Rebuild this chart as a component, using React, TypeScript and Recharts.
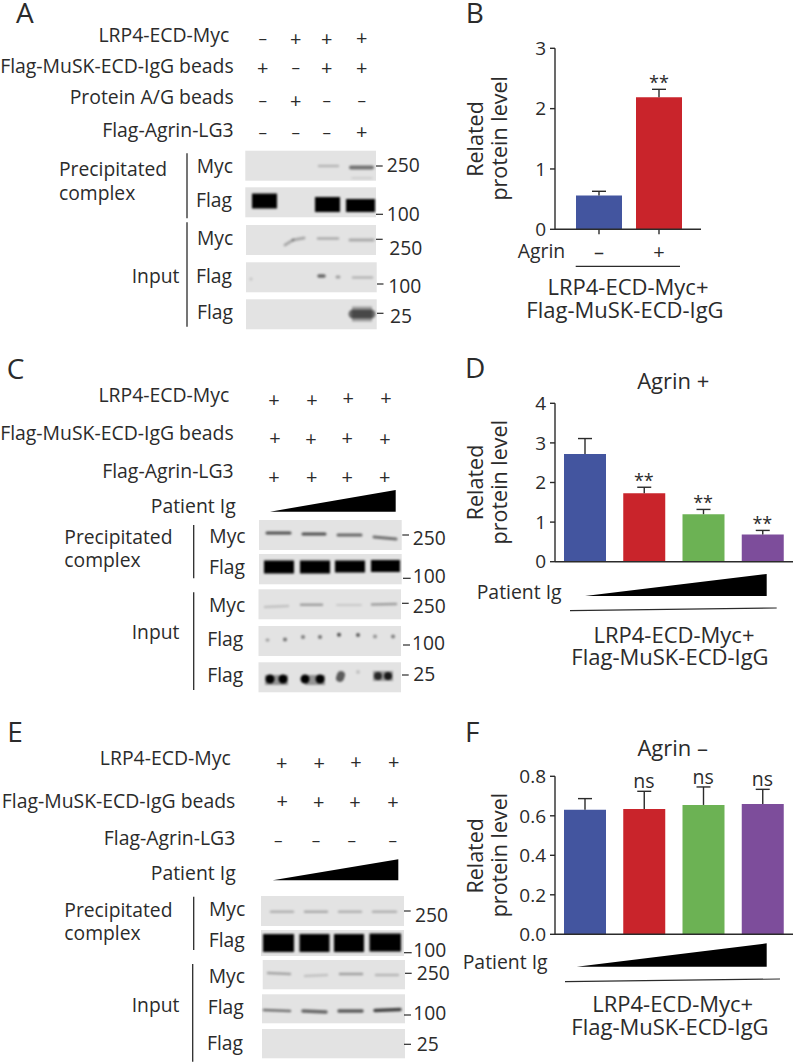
import { ComposedChart, Bar, Line, Cell, XAxis, YAxis, ErrorBar, LabelList } from "recharts";

const FONT = "'Open Sans', sans-serif";
const INK = "#2b2b2b";

// chart values
const barColors = ["#43559f", "#c9242b", "#6cb254", "#7d4d9b"];

const bCategories = ["–", "+"];
const bValues = [0.56, 2.19];
const bErrors = [0.07, 0.13];
const bMarks = ["", "**"];
const bTicks = [0, 1, 2, 3];

const doseCategories = ["1", "2", "3", "4"];

const dValues = [2.72, 1.73, 1.2, 0.69];
const dErrors = [0.39, 0.15, 0.12, 0.1];
const dMarks = ["", "**", "**", "**"];
const dTicks = [0, 1, 2, 3, 4];

const fValues = [0.631, 0.635, 0.655, 0.66];
const fErrors = [0.056, 0.089, 0.091, 0.074];
const fMarks = ["", "ns", "ns", "ns"];
const fTicks = [0, 0.2, 0.4, 0.6, 0.8];

function makeRows(categories: string[], values: number[], errors: number[], marks: string[]) {
  return categories.map((name, i) => ({
    name,
    value: values[i],
    error: [0, errors[i]],
    top: values[i] + errors[i],
    mark: marks[i],
  }));
}

function RelatedChart({ rows, ticks, top, height, plotHeight, right, barSize, padding, showSigns, markOffset, markSize, tickFormat }: any) {
  return (
    <div style={{ position: "absolute", left: 450, top }}>
      <ComposedChart
        width={344}
        height={height}
        data={rows}
        margin={{ top: 18.3, right, bottom: height - 18.3 - plotHeight - 24, left: 0 }}
      >
        <XAxis
          dataKey="name"
          height={24}
          padding={padding}
          stroke={INK}
          strokeWidth={1.4}
          tickSize={5}
          tickMargin={10}
          tick={showSigns ? { fill: INK, fontSize: 20, fontFamily: FONT } : false}
          interval={0}
        />
        <YAxis
          width={105}
          domain={[ticks[0], ticks[ticks.length - 1]]}
          ticks={ticks}
          interval={0}
          stroke={INK}
          strokeWidth={1.4}
          tickSize={5}
          tickMargin={4}
          tick={{ fill: INK, fontSize: 19, fontFamily: FONT }}
          tickFormatter={tickFormat}
        />
        <Bar dataKey="value" barSize={barSize} isAnimationActive={false}>
          {rows.map((_: any, i: number) => (
            <Cell key={i} fill={barColors[i]} />
          ))}
          <ErrorBar dataKey="error" direction="y" width={7} stroke={INK} strokeWidth={1.4} isAnimationActive={false} />
        </Bar>
        <Line dataKey="top" stroke="none" dot={false} activeDot={false} isAnimationActive={false}>
          <LabelList dataKey="mark" position="top" offset={markOffset} fill={INK} fontSize={markSize} fontFamily={FONT} />
        </Line>
      </ComposedChart>
    </div>
  );
}

// overlay text
type Txt = [string, number, number, number?, string?];

const labelText: Txt[] = [
  ["LRP4-ECD-Myc", 229.3, 41.7, 19.4, "end"],
  ["Flag-MuSK-ECD-IgG beads", 233.7, 72.7, 19.4, "end"],
  ["Protein A/G beads", 233.7, 104, 19.4, "end"],
  ["Flag-Agrin-LG3", 233.7, 137.3, 19.4, "end"],
  ["Precipitated", 59, 176, 19.3],
  ["complex", 59, 200, 19.3],
  ["Myc", 196.7, 173.3, 19.3],
  ["Flag", 196, 207.3, 19.3],
  ["Myc", 197, 245, 19.3],
  ["Flag", 196, 282.7, 19.3],
  ["Flag", 197, 319.3, 19.3],
  ["Input", 131.7, 283.3, 19.3],
  ["250", 386.7, 172.3, 19.3],
  ["100", 386.7, 220.7, 19.3],
  ["250", 389.3, 255, 19.3],
  ["100", 388.3, 293.3, 19.3],
  ["25", 390, 323.3, 19.3],

  ["LRP4-ECD-Myc", 229.3, 401.7, 19.4, "end"],
  ["Flag-MuSK-ECD-IgG beads", 233.7, 440, 19.4, "end"],
  ["Flag-Agrin-LG3", 233.7, 478.3, 19.4, "end"],
  ["Patient Ig", 235.7, 513.3, 19.4, "end"],
  ["Precipitated", 64.3, 544.3, 19.3],
  ["complex", 64.3, 567.3, 19.3],
  ["Myc", 209.3, 542.7, 19.3],
  ["Flag", 209, 574, 19.3],
  ["Myc", 209, 611.7, 19.3],
  ["Flag", 207.3, 646, 19.3],
  ["Flag", 207.3, 681.7, 19.3],
  ["Input", 131.7, 639, 19.3],
  ["250", 412.7, 545, 19.3],
  ["100", 412.7, 583.3, 19.3],
  ["250", 412.7, 613.3, 19.3],
  ["100", 412, 650, 19.3],
  ["25", 413.3, 680.7, 19.3],

  ["LRP4-ECD-Myc", 230.7, 765, 19.4, "end"],
  ["Flag-MuSK-ECD-IgG beads", 235.3, 808.3, 19.4, "end"],
  ["Flag-Agrin-LG3", 235.3, 845, 19.4, "end"],
  ["Patient Ig", 235.7, 880, 19.4, "end"],
  ["Precipitated", 64.3, 916.7, 19.3],
  ["complex", 64.3, 940, 19.3],
  ["Myc", 209, 915.7, 19.3],
  ["Flag", 208.7, 946.7, 19.3],
  ["Myc", 208.7, 983.3, 19.3],
  ["Flag", 207.7, 1014.3, 19.3],
  ["Flag", 207, 1050, 19.3],
  ["Input", 131.7, 1011.7, 19.3],
  ["250", 415, 921.7, 19.3],
  ["100", 413.3, 957.3, 19.3],
  ["250", 416.7, 980, 19.3],
  ["100", 413.3, 1020, 19.3],
  ["25", 416.7, 1050.7, 19.3],

  ["Agrin", 517.7, 258.3, 19.4],
  ["LRP4-ECD-Myc+", 628, 295, 22, "middle"],
  ["Flag-MuSK-ECD-IgG", 625, 318.3, 22, "middle"],
  ["Agrin +", 673.3, 389.3, 22, "middle"],
  ["Patient Ig", 476.7, 599.3, 19.4],
  ["LRP4-ECD-Myc+", 674, 642.7, 22, "middle"],
  ["Flag-MuSK-ECD-IgG", 670, 665, 22, "middle"],
  ["Agrin –", 672.7, 756, 22, "middle"],
  ["Patient Ig", 462.7, 969.3, 19.4],
  ["LRP4-ECD-Myc+", 672.7, 1011.7, 22, "middle"],
  ["Flag-MuSK-ECD-IgG", 670, 1035, 22, "middle"],
];

const panelLetters: [string, number, number][] = [
  ["A", 16, 22.7],
  ["B", 465.7, 22.7],
  ["C", 6.7, 379.3],
  ["D", 465, 378],
  ["E", 7.3, 742.3],
  ["F", 465, 741.7],
];

const yTitles: [number, number][] = [
  [139, 138.3],
  [482.5, 482.2],
  [855.8, 855],
];

// + and – rows above each blot: [sign, x, y]
const signs: [string, number, number][] = [
  ["–", 262.7, 38], ["+", 295.7, 39], ["+", 326.7, 38.5], ["+", 361.7, 38.3],
  ["+", 262.7, 67.7], ["–", 295.7, 67], ["+", 326.7, 67.7], ["+", 361.7, 68],
  ["–", 262.7, 100], ["+", 295.7, 100.5], ["–", 326.7, 100], ["–", 361.7, 100],
  ["–", 262.7, 132], ["–", 295.7, 132], ["–", 326.7, 132.5], ["+", 361.7, 132.3],

  ["+", 274, 399.5], ["+", 312, 399.7], ["+", 348.3, 398], ["+", 386, 398],
  ["+", 275, 437.5], ["+", 311, 438.5], ["+", 347.3, 438], ["+", 385, 438.5],
  ["+", 274, 476.7], ["+", 311.7, 477], ["+", 347.3, 477], ["+", 384.7, 477],

  ["+", 281.7, 763], ["+", 319.3, 763.3], ["+", 356, 761.7], ["+", 393.7, 761.7],
  ["+", 282.3, 801], ["+", 318.7, 802], ["+", 355, 801.7], ["+", 393, 802],
  ["–", 278.3, 840], ["–", 316, 840], ["–", 351.7, 840.5], ["–", 392.7, 840],
];

// blot backgrounds: [x, y, w, h]
const blots = [
  [245.3, 150.7, 130.7, 30], [245.3, 187.3, 130.7, 30], [246, 225, 130, 30], [246, 262.3, 130.7, 30], [246, 299.3, 130.7, 30],
  [259, 520, 142.7, 30], [259, 554, 142.7, 30.3], [258.5, 589.3, 142.5, 30], [258.5, 626, 142.5, 30], [258.5, 662.3, 142.5, 30],
  [261, 896, 143, 30], [261, 930, 143, 26], [262.7, 960, 142.3, 29.3], [262, 994.3, 143, 29], [262, 1029, 143, 29.3],
];

// blot bands: [x1, y1, x2, y2, thickness, darkness]
const bands = [
  [319, 166, 338, 166, 2.5, 0.2], [351, 167.5, 372, 167.5, 4, 0.5], [352, 178, 372, 178, 1.5, 0.12],
  [252, 201, 277, 201, 15, 1], [315, 204.5, 340, 204.5, 15, 1], [346, 205.5, 375, 205.5, 13, 1],
  [285, 245, 293, 240, 3, 0.25], [293, 240, 304, 238, 3, 0.25], [318, 238.5, 338, 238.5, 2.5, 0.25], [350, 240, 373, 240, 3, 0.25],
  [251, 279, 251, 279, 3, 0.15], [319, 276, 324, 276, 3.5, 0.55], [337, 277, 339, 277, 3, 0.3], [353, 277.5, 372, 277.5, 2.5, 0.2],
  [352, 314, 372, 314, 15, 0.3], [353, 314, 371, 314, 9, 0.55],

  [267, 533, 290, 533, 3, 0.65], [303, 534, 325, 534, 3, 0.65], [338, 535, 361, 535, 3, 0.55], [374, 537, 396, 539, 3, 0.5],
  [264, 567, 294, 567, 13, 1], [300, 567, 330, 567, 13, 1], [335, 566.5, 365, 566.5, 12, 1], [371, 566, 400, 566, 12, 1],
  [265, 607, 288, 606, 2.5, 0.15], [301, 604.7, 322, 604.7, 2.5, 0.3], [337, 605, 361, 605, 2, 0.12], [372, 604.5, 396, 604, 2.5, 0.3],
  [267, 640, 268, 640, 3, 0.3], [285, 639.5, 285, 639.5, 4, 0.5], [303, 637, 303, 637, 4, 0.45], [320, 637, 320, 637, 4, 0.5],
  [339, 634.7, 339, 634.7, 4, 0.65], [358, 635, 358, 635, 4, 0.6], [375, 636.5, 375, 636.5, 4, 0.35], [393, 636.5, 393, 636.5, 4, 0.45],
  [265, 680, 288, 680, 10, 0.35], [305, 680, 325, 680, 10, 0.35], [373, 676, 393, 676, 10, 0.3],
  [270, 679, 270, 679, 9, 1], [283, 679, 283, 679, 9, 1], [305, 679, 305, 679, 9, 1], [320, 679, 320, 679, 9, 1],
  [341, 675, 340, 678, 8, 0.6], [358, 672, 358, 672, 4, 0.15], [378, 676, 378, 676, 8, 0.75], [388, 676, 388, 676, 8, 0.85],

  [271, 911.7, 293, 911.7, 2.5, 0.22], [305, 911.7, 327, 911.7, 2.5, 0.25], [339, 911.7, 361, 911.7, 2.5, 0.22], [373, 911.7, 396, 911.7, 2.5, 0.22],
  [263, 943, 294, 943, 18, 1], [299.5, 943, 329.5, 943, 18, 1], [334, 943, 364, 943, 18, 1], [369.5, 942.5, 401, 942.5, 18, 1],
  [268, 973, 290, 974, 2.5, 0.28], [305, 976, 327, 975, 2.5, 0.15], [340, 974, 362, 974, 2.5, 0.3], [376, 975, 398, 975, 2.5, 0.2],
  [264, 1010, 290, 1011, 2.5, 0.5], [303, 1011, 326, 1012, 3.5, 0.55], [339, 1011, 362, 1011, 3.5, 0.6], [375, 1010.5, 400, 1009.5, 3.5, 0.7],
];

// brackets, size ticks and rules: [x1, y1, x2, y2, thickness]
const rules = [
  [187, 153.3, 187, 218.3, 1.3], [187, 222.3, 187, 326.7, 1.3],
  [376, 166, 382.7, 166, 1.2], [376, 214.3, 383, 214.3, 1.2], [376, 239.3, 382.7, 239.3, 1.2], [377, 284, 383.5, 284, 1.2], [377, 313.3, 383.5, 313.3, 1.2],
  [193.7, 525, 193.7, 578.3, 1.3], [193.7, 592.3, 193.7, 690, 1.3],
  [402.3, 535, 409, 535, 1.2], [403, 578.3, 410.7, 578.3, 1.2], [402, 603.3, 408.7, 603.3, 1.2], [403, 645, 410, 645, 1.2], [402, 675, 408.7, 675, 1.2],
  [193.7, 896.7, 193.7, 950, 1.3], [192.7, 964, 192.7, 1061.7, 1.3],
  [404, 911, 410.7, 911, 1.2], [404, 952.7, 411.7, 952.7, 1.2], [405, 973.3, 411.7, 973.3, 1.2], [404, 1015, 411, 1015, 1.2], [404, 1044.3, 411, 1044.3, 1.2],
  [575.7, 266.3, 680, 266.3, 1.2], [570, 610.7, 776.7, 608, 1.2], [565, 981.7, 780, 979, 1.2],
];

// dose wedges: [x1, yBase, x2, yTop]
const wedges = [
  [270, 511.7, 395.7, 490],
  [272.7, 880.3, 398.3, 859.3],
  [585, 595.9, 766.7, 574],
  [576.7, 966.7, 766.7, 943.3],
];

function Overlay() {
  return (
    <svg width={794} height={1064} style={{ position: "absolute", left: 0, top: 0, pointerEvents: "none" }} fontFamily={FONT} fill={INK}>
      <defs>
        <filter id="soft" filterUnits="userSpaceOnUse" x="0" y="0" width="794" height="1064">
          <feGaussianBlur stdDeviation="1.2" />
        </filter>
      </defs>
      {blots.map((b, i) => (
        <rect key={i} x={b[0]} y={b[1]} width={b[2]} height={b[3]} fill="#e3e3e3" />
      ))}
      <g filter="url(#soft)">
        {bands.map((b, i) => (
          <line
            key={i}
            x1={b[0]}
            y1={b[1]}
            x2={b[2] + 0.01}
            y2={b[3]}
            stroke="#000"
            strokeWidth={b[4]}
            strokeOpacity={b[5]}
            strokeLinecap={b[4] >= 10 && b[2] - b[0] > 12 ? "butt" : "round"}
          />
        ))}
      </g>
      {rules.map((r, i) => (
        <line key={i} x1={r[0]} y1={r[1]} x2={r[2]} y2={r[3]} stroke={INK} strokeWidth={r[4]} />
      ))}
      {wedges.map((w, i) => (
        <polygon key={i} points={`${w[0]},${w[1]} ${w[2]},${w[3]} ${w[2]},${w[1]}`} fill="#000" />
      ))}
      {labelText.map(([t, x, y, size, anchor], i) => (
        <text key={i} x={x} y={y} fontSize={size} textAnchor={anchor || "start"}>{t}</text>
      ))}
      {signs.map(([t, x, y], i) => (
        <text key={i} x={x} y={t === "+" ? y + 7 : y + 5.5} fontSize={t === "+" ? 20 : 17} textAnchor="middle">{t}</text>
      ))}
      {panelLetters.map(([t, x, y]) => (
        <text key={t} x={x} y={y} fontSize={28}>{t}</text>
      ))}
      {yTitles.map(([a, b], i) => (
        <g key={i} fontSize={21.5} textAnchor="middle">
          <text transform={`translate(483.3 ${a}) rotate(-90)`}>Related</text>
          <text transform={`translate(506.7 ${b}) rotate(-90)`}>protein level</text>
        </g>
      ))}
    </svg>
  );
}

export default function App() {
  return (
    <div style={{ position: "absolute", left: 0, top: 0, width: 794, height: 1064, background: "#fff", overflow: "hidden" }}>
      <style>{`.recharts-errorBar line:nth-of-type(3){display:none}`}</style>
      <RelatedChart
        rows={makeRows(bCategories, bValues, bErrors, bMarks)}
        ticks={bTicks}
        top={30}
        height={240}
        plotHeight={181}
        right={93}
        barSize={46}
        padding={{ left: 14, right: 12 }}
        showSigns
        markOffset={0}
        markSize={18}
      />
      <RelatedChart
        rows={makeRows(doseCategories, dValues, dErrors, dMarks)}
        ticks={dTicks}
        top={385}
        height={210}
        plotHeight={158.4}
        right={1}
        barSize={42}
        padding={{ left: 0, right: 1 }}
        markOffset={0}
        markSize={18}
      />
      <RelatedChart
        rows={makeRows(doseCategories, fValues, fErrors, fMarks)}
        ticks={fTicks}
        top={758.4}
        height={210}
        plotHeight={158}
        right={1}
        barSize={42}
        padding={{ left: 0, right: 1 }}
        markOffset={3}
        markSize={19.5}
        tickFormat={(v: number) => v.toFixed(1)}
      />
      <Overlay />
    </div>
  );
}
